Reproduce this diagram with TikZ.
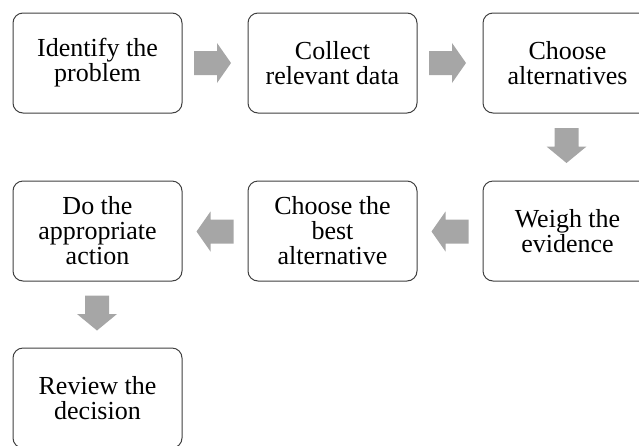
\documentclass[tikz,border=0pt]{standalone}
\usepackage{fontspec}
\setmainfont{Liberation Serif}
\definecolor{boxline}{HTML}{404040}
\definecolor{arrowgray}{HTML}{A6A6A6}
\tikzset{
  stepbox/.style={draw=boxline, line width=1pt, rounded corners=10pt, fill=white,
    minimum width=169pt, minimum height=100pt, inner sep=0pt, align=center,
    font=\fontsize{26pt}{25pt}\selectfont},
  arrowR/.pic={\fill[arrowgray] (-18.5,-12) -- (4.5,-12) -- (4.5,-20) -- (18.5,0) -- (4.5,20) -- (4.5,12) -- (-18.5,12) -- cycle;},
  arrowL/.pic={\fill[arrowgray] (18.5,-12) -- (-4.5,-12) -- (-4.5,-20) -- (-18.5,0) -- (-4.5,20) -- (-4.5,12) -- (18.5,12) -- cycle;},
  arrowD/.pic={\fill[arrowgray] (-12,-17.5) -- (-12,1) -- (-20,1) -- (0,17.5) -- (20,1) -- (12,1) -- (12,-17.5) -- cycle;}
}
\begin{document}
\begin{tikzpicture}[x=1pt,y=-1pt]
\useasboundingbox (0,0) rectangle (639,445);
\clip (0,0) rectangle (639,445);
\node[stepbox] (b1) at (97.5,63) {Identify the\\problem};
\node[stepbox] (b2) at (332.5,63) {Collect\\relevant data};
\node[stepbox] (b3) at (567.5,63) {Choose\\alternatives};
\node[stepbox] (b4) at (567.5,231) {Weigh the\\evidence};
\node[stepbox] (b5) at (332.5,231) {Choose the\\best\\alternative};
\node[stepbox] (b6) at (97.5,231) {Do the\\appropriate\\action};
\node[stepbox] (b7) at (97.5,398) {Review the\\decision};
\pic at (212.5,63) {arrowR};
\pic at (447.5,63) {arrowR};
\pic at (566.5,145.5) {arrowD};
\pic at (450,231.5) {arrowL};
\pic at (215,231.5) {arrowL};
\pic at (97,313) {arrowD};
\end{tikzpicture}
\end{document}
